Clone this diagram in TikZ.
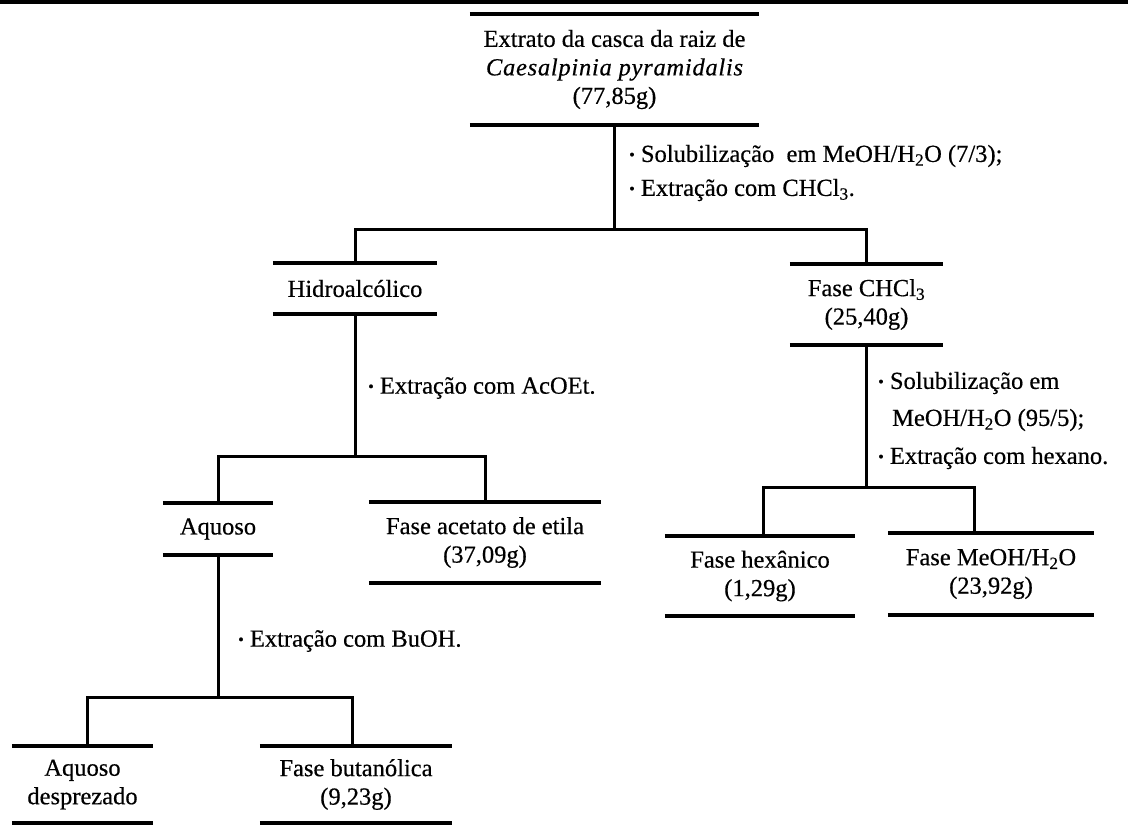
\documentclass[tikz,border=0pt]{standalone}
\usepackage{fontspec}
\setmainfont{Liberation Serif}
\newcommand{\bul}{\raisebox{2pt}{\fontsize{16}{16}\selectfont\textbullet}\ }
\begin{document}
\begin{tikzpicture}[x=1pt,y=-1pt,
  txt/.style={font=\fontsize{24.5}{28.5}\selectfont\addfontfeature{FakeBold=0.5}},
  phase/.style={txt, align=center, inner sep=0pt, draw=none},
  bar/.style={line width=4pt, line cap=butt},
  conn/.style={line width=3pt, line join=miter},
  lab/.style={txt, anchor=west, inner sep=0pt, align=left}]
\useasboundingbox (0,0) rectangle (1128,825);
\fill[white] (0,0) rectangle (1128,825);
\draw[line width=3.5pt] (0,2) -- (1128,2);

% phases
\node[phase, minimum width=289, minimum height=111] (root) at (614.5,69.5)
  {Extrato da casca da raiz de\\ {\itshape\addfontfeature{LetterSpace=3}Caesalpinia pyramidalis}\\ (77,85g)};
\node[phase, minimum width=164, minimum height=51] (hidro) at (355,288.5) {Hidroalcólico};
\node[phase, minimum width=153, minimum height=81] (chcl) at (866.5,304.5)
  {Fase CHCl\textsubscript{3}\\ (25,40g)};
\node[phase, minimum width=110, minimum height=52] (aquoso) at (218,529) {Aquoso};
\node[phase, minimum width=232, minimum height=81] (acet) at (485,542.5)
  {Fase acetato de etila\\ (37,09g)};
\node[phase, minimum width=190, minimum height=80] (hex) at (760,576)
  {Fase hexânico\\ (1,29g)};
\node[phase, minimum width=206, minimum height=82] (meoh) at (991,574)
  {Fase MeOH/H\textsubscript{2}O\\ (23,92g)};
\node[phase, minimum width=141, minimum height=77] (desp) at (82.5,784.5)
  {Aquoso\\ desprezado};
\node[phase, minimum width=192, minimum height=77] (buta) at (356,784.5)
  {Fase butanólica\\ (9,23g)};

\foreach \n in {root,hidro,chcl,aquoso,acet,hex,meoh,desp,buta}{
  \draw[bar] (\n.north west) -- (\n.north east);
  \draw[bar] (\n.south west) -- (\n.south east);
}

% junctions
\coordinate (j1) at (614.5,229);
\coordinate (j2) at (355,456);
\coordinate (j3) at (218,697);
\coordinate (j4) at (866.5,487);

\draw[conn] (root.south) -- (j1);
\draw[conn] (hidro.north) |- (j1) -| (chcl.north);
\draw[conn] (hidro.south) -- (j2);
\draw[conn] (aquoso.north) |- (j2) -| (acet.north);
\draw[conn] (aquoso.south) -- (j3);
\draw[conn] ([xshift=4.5pt]desp.north) |- (j3) -| ([xshift=-4pt]buta.north);
\draw[conn] (chcl.south) -- (j4);
\draw[conn] ([xshift=3pt]hex.north) |- (j4) -| ([xshift=-17pt]meoh.north);

% labels
\node[lab] (l1) at (629,156) {\bul Solubilização\ \ em MeOH/H\textsubscript{2}O (7/3);};
\node[lab] (l2) at (629,190) {\bul Extração com CHCl\textsubscript{3}.};
\node[lab] (l3) at (368,388) {\bul Extração com AcOEt.};
\node[lab] (l4) at (238,641) {\bul Extração com BuOH.};
\node[lab] (l5) at (878,383) {\bul Solubilização em};
\node[lab] (l6) at (892,420) {MeOH/H\textsubscript{2}O (95/5);};
\node[lab] (l7) at (878,458) {\bul Extração com hexano.};
\end{tikzpicture}
\end{document}
